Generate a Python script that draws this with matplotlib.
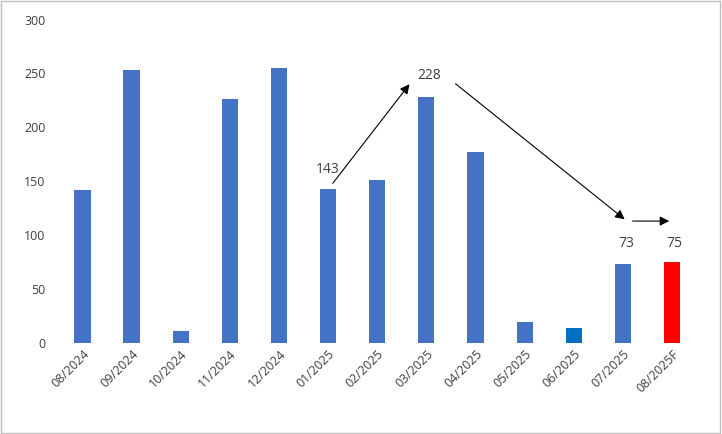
import matplotlib.pyplot as plt
from matplotlib.patches import Rectangle

months = ["08/2024", "09/2024", "10/2024", "11/2024", "12/2024", "01/2025", "02/2025",
          "03/2025", "04/2025", "05/2025", "06/2025", "07/2025", "08/2025F"]
values = [142, 253, 11, 226, 255, 143, 151, 228, 177, 19, 14, 73, 75]
colors = ["#4472C4"] * 10 + ["#0070C0", "#4472C4", "#FF0000"]

plt.rcParams['font.family'] = ['Open Sans', 'DejaVu Sans']
fig = plt.figure(figsize=(7.22, 4.34), dpi=100)
ax = fig.add_axes([0.07, 0.21, 0.905, 0.745])
x = range(len(months))
ax.bar(x, values, width=0.33, color=colors)
ax.set_xlim(-0.65, len(months) - 0.35)
ax.set_ylim(0, 300)
ax.set_yticks(range(0, 301, 50))
ax.set_xticks(list(x))
ax.set_xticklabels(months, rotation=45, ha='right', rotation_mode='anchor')
ax.tick_params(length=0, labelsize=9, colors="#404040")
for s in ax.spines.values():
    s.set_visible(False)

arrow = dict(arrowstyle='-|>', color='black', lw=0.8, mutation_scale=14)
ax.annotate("", xy=(6.69, 242), xytext=(5.06, 146), arrowprops=arrow)
ax.annotate("", xy=(11.08, 113), xytext=(7.55, 242), arrowprops=arrow)
ax.annotate("", xy=(12.0, 113), xytext=(11.14, 113), arrowprops=arrow)
ax.text(5.0, 161, "143", ha='center', va='center', fontsize=10, color="#404040")
ax.text(7.06, 248, "228", ha='center', va='center', fontsize=10, color="#404040")
ax.text(11.06, 92, "73", ha='center', va='center', fontsize=10, color="#404040")
ax.text(12.04, 92, "75", ha='center', va='center', fontsize=10, color="#404040")

fig.patches.append(Rectangle((0.002, 0.003), 0.995, 0.994, transform=fig.transFigure,
                             fill=False, edgecolor="#BFBFBF", lw=1))
fig.savefig("out.png", dpi=100)
